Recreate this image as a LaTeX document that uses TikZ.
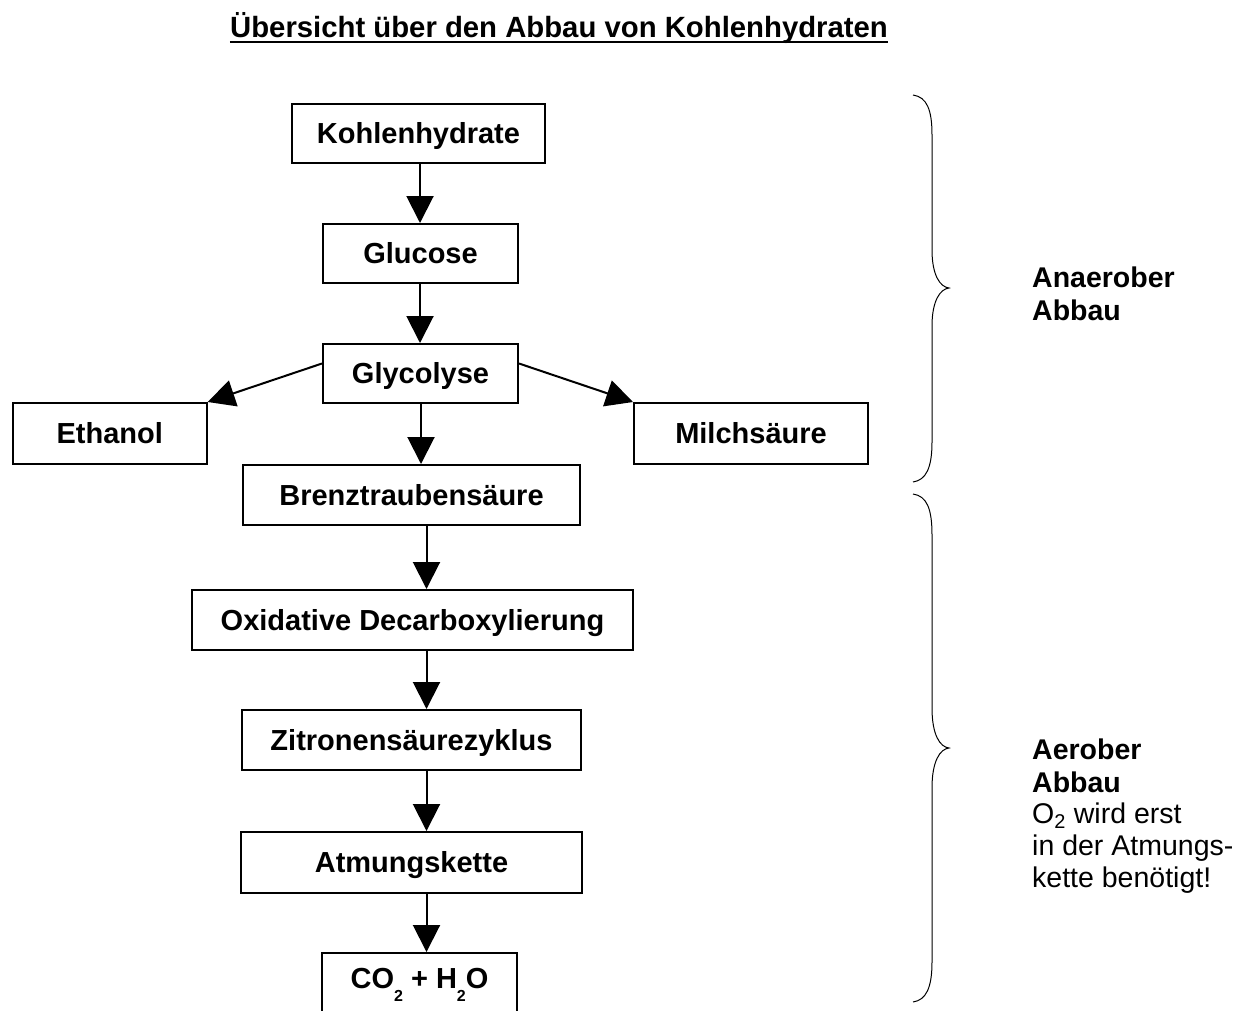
\documentclass[tikz,border=0pt]{standalone}
\usepackage{fontspec}
\setmainfont{Liberation Sans}
\usetikzlibrary{arrows.meta}
\newcommand{\lowtwo}{\raisebox{-13pt}{\fontsize{16}{16}\selectfont 2}}
\begin{document}
\begin{tikzpicture}[x=1pt,y=-1pt,
  box/.style={draw,line width=2pt,inner sep=0pt,font=\fontsize{29}{32}\selectfont\bfseries,text height=20.8pt,text depth=0pt},
  arr/.style={line width=2pt,-{Triangle[length=27pt,width=27pt]}},
  brace/.style={line width=1pt},
  lbl/.style={inner sep=0pt,anchor=base west,font=\fontsize{28.5}{32}\selectfont},
  lblb/.style={lbl,font=\fontsize{28.5}{32}\selectfont\bfseries}]
\useasboundingbox (0,0) rectangle (1255,1010);
% title
\node[inner sep=0pt,anchor=base,font=\fontsize{29.3}{32}\selectfont\bfseries] (t) at (559,37) {Übersicht über den Abbau von Kohlenhydraten};
\draw[line width=2pt] ([yshift=-5pt]t.base west) -- ([yshift=-5pt]t.base east);
% boxes
\node[box,minimum width=253pt,minimum height=59pt] (k) at (418.5,133.5) {Kohlenhydrate};
\node[box,minimum width=195pt,minimum height=59pt] (gc) at (420.5,253.5) {Glucose};
\node[box,minimum width=195pt,minimum height=59pt] (gl) at (420.5,373.5) {Glycolyse};
\node[box,minimum width=194pt,minimum height=61pt] (et) at (109.7,433.5) {Ethanol};
\node[box,minimum width=234pt,minimum height=61pt] (mi) at (751,433.5) {Milchsäure};
\node[box,minimum width=337pt,minimum height=60pt] (bz) at (411.5,495) {Brenztraubensäure};
\node[box,minimum width=441pt,minimum height=60pt] (ox) at (412.5,620) {Oxidative Decarboxylierung};
\node[box,minimum width=339pt,minimum height=60pt] (zi) at (411.5,740) {Zitronensäurezyklus};
\node[box,minimum width=341pt,minimum height=61pt] (at) at (411.5,862.5) {Atmungskette};
\node[box,anchor=north,minimum width=195pt,inner ysep=15pt,text depth=60pt] (co) at (419.5,952) {CO\lowtwo{} + H\lowtwo{}O};
% arrows
\coordinate (xa) at (420,0);
\coordinate (xb) at (421,0);
\coordinate (xc) at (426.5,0);
\draw[arr] (k.south -| xa) -- (gc.north -| xa);
\draw[arr] (gc.south -| xa) -- (gl.north -| xa);
\draw[arr] (gl.south -| xb) -- (bz.north -| xb);
\draw[arr] ([yshift=10pt]gl.west) -- (et.north east);
\draw[arr] ([yshift=10pt]gl.east) -- (mi.north west);
\draw[arr] (bz.south -| xc) -- (ox.north -| xc);
\draw[arr] (ox.south -| xc) -- (zi.north -| xc);
\draw[arr] (zi.south -| xc) -- (at.north -| xc);
\draw[arr] (at.south -| xc) -- (co.north -| xc);
% braces
\draw[brace] (913,95) .. controls (927,97) and (932,110) .. (932,135) -- (932,250)
  .. controls (932,275) and (940,287) .. (949,288)
  .. controls (940,289) and (932,301) .. (932,326) -- (932,442)
  .. controls (932,468) and (926,480) .. (913,482);
\draw[brace] (913,494) .. controls (927,496) and (932,509) .. (932,535) -- (932,708)
  .. controls (932,735) and (940,747) .. (949,748)
  .. controls (940,749) and (932,761) .. (932,788) -- (932,962)
  .. controls (932,988) and (926,1000) .. (913,1002);
% labels
\node[lblb] (an1) at (1032,287) {Anaerober};
\node[lblb] (an2) at (1032,320) {Abbau};
\node[lblb] (ae1) at (1032,759) {Aerober};
\node[lblb] (ae2) at (1032,792) {Abbau};
\node[lbl] (ae3) at (1032,823) {O\textsubscript{2} wird erst};
\node[lbl] (ae4) at (1032,855) {in der Atmungs-};
\node[lbl] (ae5) at (1032,887) {kette benötigt!};
\end{tikzpicture}
\end{document}
